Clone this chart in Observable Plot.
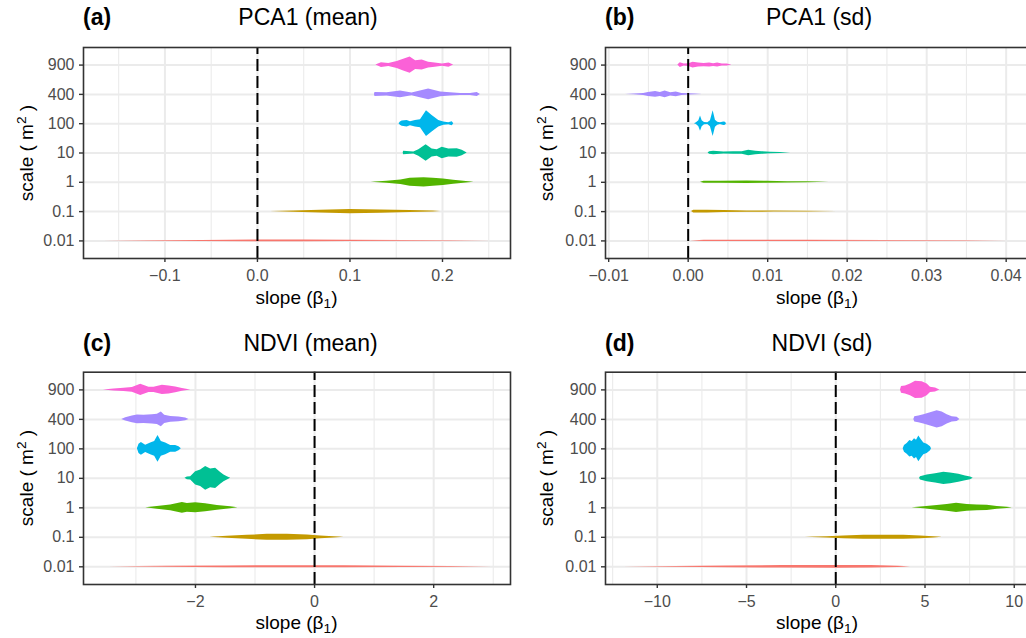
<!DOCTYPE html>
<html><head><meta charset="utf-8">
<script src="https://cdn.jsdelivr.net/npm/d3@7"></script>
<script src="https://cdn.jsdelivr.net/npm/@observablehq/plot@0.6"></script>
<style>
html,body{margin:0;padding:0;background:#fff;overflow:hidden;width:1026px;height:638px;}
#root{position:relative;width:1026px;height:638px;overflow:hidden;font-family:"Liberation Sans",Arial,Helvetica,sans-serif;}
.panel{position:absolute;}
.panel svg{max-width:none !important;display:block;}
.lab{position:absolute;white-space:nowrap;color:#000;line-height:1;}
.tag{font-size:23px;font-weight:bold;}
.ttl{font-size:23px;transform:translateX(-50%);}
.xt{font-size:19px;transform:translateX(-50%);}
.yt{font-size:19px;transform:translate(-50%,-50%) rotate(-90deg);}
sub{font-size:0.72em;vertical-align:-0.28em;line-height:0;}
sup{font-size:0.72em;vertical-align:0.5em;line-height:0;}
</style></head><body><div id="root"></div><script>
// categories (bottom to top) and their hue colours
const scales = ["0.01","0.1","1","10","100","400","900"];
const colors = ["#F8766D","#C49A00","#53B400","#00C094","#00B6EB","#A58AFF","#FB61D7"];

// violin outlines: [slope, half-width in category units], one array per scale (0.01 ... 900)
const pca1MeanViolins = [
  [[-0.166,0],[-0.12,0.008],[-0.06,0.018],[0,0.028],[0.05,0.03],[0.1,0.024],[0.16,0.015],[0.21,0.008],[0.252,0]],
  [[0.014,0],[0.039,0.022],[0.068,0.045],[0.1,0.07],[0.133,0.057],[0.165,0.034],[0.19,0.017],[0.198,0]],
  [[0.123,0],[0.14,0.034],[0.155,0.079],[0.165,0.136],[0.18,0.158],[0.19,0.136],[0.201,0.113],[0.212,0.068],[0.223,0.034],[0.234,0]],
  [[0.1575,0],[0.158,0.056],[0.169,0.034],[0.1744,0.113],[0.1823,0.28],[0.1888,0.136],[0.1942,0.113],[0.1997,0.2],[0.2068,0.136],[0.2159,0.147],[0.2213,0.09],[0.2267,0]],
  [[0.153,0],[0.1545,0.056],[0.1564,0.09],[0.1618,0.113],[0.1654,0.068],[0.1708,0.113],[0.1762,0.136],[0.1827,0.44],[0.1888,0.28],[0.196,0.113],[0.2014,0.056],[0.2068,0.034],[0.2105,0.068],[0.2122,0]],
  [[0.1265,0],[0.127,0.068],[0.14,0.056],[0.1546,0.113],[0.167,0.045],[0.185,0.18],[0.198,0.079],[0.2086,0.056],[0.2195,0.034],[0.2303,0.034],[0.2375,0.068],[0.241,0]],
  [[0.128,0],[0.134,0.08],[0.142,0.05],[0.151,0.12],[0.158,0.2],[0.165,0.28],[0.171,0.15],[0.178,0.17],[0.185,0.1],[0.192,0.07],[0.2,0.04],[0.207,0.07],[0.212,0]]
];
const pca1SdViolins = [
  [[0.0003,0],[0.002,0.02],[0.008,0.022],[0.015,0.02],[0.025,0.015],[0.035,0.009],[0.0401,0]],
  [[0.00042,0],[0.0007,0.045],[0.0024,0.045],[0.0045,0.034],[0.0074,0.023],[0.0108,0.017],[0.015,0.011],[0.0187,0]],
  [[0.00155,0],[0.002,0.034],[0.0041,0.034],[0.0074,0.045],[0.0099,0.034],[0.0125,0.023],[0.015,0.017],[0.0177,0]],
  [[0.0025,0],[0.0027,0.045],[0.0032,0.056],[0.0045,0.034],[0.0057,0.045],[0.0068,0.045],[0.0076,0.09],[0.0085,0.056],[0.0093,0.045],[0.0104,0.023],[0.0116,0.017],[0.0129,0]],
  [[0.00079,0],[0.00104,0.03],[0.00134,0.1],[0.00155,0.26],[0.00176,0.1],[0.00205,0.04],[0.00247,0.03],[0.0028,0.1],[0.00314,0.44],[0.00343,0.12],[0.00372,0.05],[0.00406,0.03],[0.00448,0.06],[0.00469,0.05],[0.00482,0]],
  [[-0.0079,0],[-0.0068,0.011],[-0.0056,0.034],[-0.005,0.068],[-0.0041,0.1],[-0.0035,0.068],[-0.0029,0.113],[-0.0022,0.056],[-0.0015,0.079],[-0.0008,0.034],[0.0001,0.023],[0.0009,0.011],[0.0018,0]],
  [[-0.0013,0],[-0.001,0.079],[-0.0005,0.034],[0.0001,0.045],[0.0006,0.1],[0.0013,0.068],[0.002,0.056],[0.0027,0.068],[0.0032,0.045],[0.0037,0.068],[0.0043,0.034],[0.0049,0.034],[0.0055,0]]
];
const ndviMeanViolins = [
  [[-3.45,0],[-2.5,0.015],[-1.5,0.03],[-0.5,0.035],[0.5,0.032],[1.5,0.022],[2.3,0.012],[2.98,0]],
  [[-1.756,0],[-1.465,0.034],[-1.129,0.068],[-0.794,0.1],[-0.458,0.1],[-0.122,0.079],[0.1,0.045],[0.324,0.023],[0.492,0]],
  [[-2.835,0],[-2.64,0.045],[-2.416,0.1],[-2.22,0.18],[-2.136,0.147],[-1.997,0.17],[-1.829,0.136],[-1.633,0.079],[-1.409,0.034],[-1.287,0]],
  [[-2.176,0],[-2.136,0.045],[-2.08,0.056],[-1.997,0.226],[-1.913,0.28],[-1.829,0.4],[-1.745,0.32],[-1.661,0.34],[-1.577,0.2],[-1.521,0.113],[-1.465,0.056],[-1.409,0]],
  [[-2.975,0],[-2.948,0.158],[-2.908,0.215],[-2.836,0.124],[-2.752,0.2],[-2.685,0.25],[-2.629,0.45],[-2.573,0.25],[-2.5,0.2],[-2.416,0.113],[-2.332,0.113],[-2.277,0.068],[-2.237,0]],
  [[-3.238,0],[-3.171,0.056],[-3.06,0.113],[-2.975,0.147],[-2.864,0.136],[-2.724,0.158],[-2.64,0.17],[-2.573,0.25],[-2.517,0.136],[-2.416,0.1],[-2.277,0.079],[-2.164,0.045],[-2.109,0]],
  [[-3.545,0],[-3.367,0.034],[-3.2,0.056],[-3.06,0.079],[-2.919,0.19],[-2.78,0.09],[-2.696,0.09],[-2.556,0.158],[-2.444,0.136],[-2.332,0.1],[-2.22,0.045],[-2.08,0]]
];
const ndviSdViolins = [
  [[-11.88,0],[-9,0.012],[-6,0.028],[-3,0.042],[0,0.047],[2,0.042],[3.5,0.022],[4.19,0]],
  [[-1.7,0],[-0.48,0.023],[0.45,0.045],[1.57,0.068],[2.69,0.068],[3.81,0.068],[4.75,0.045],[5.49,0.023],[5.96,0]],
  [[4.281,0],[4.933,0.034],[5.682,0.079],[6.243,0.113],[6.766,0.158],[7.364,0.113],[7.925,0.1],[8.486,0.09],[9.047,0.045],[9.607,0.023],[9.888,0]],
  [[4.692,0],[4.748,0.056],[5.121,0.113],[5.588,0.158],[6.054,0.21],[6.43,0.18],[6.894,0.136],[7.269,0.079],[7.55,0.045],[7.7,0]],
  [[3.777,0],[3.851,0.113],[4.001,0.18],[4.15,0.28],[4.281,0.25],[4.412,0.34],[4.524,0.29],[4.654,0.44],[4.785,0.32],[4.933,0.2],[5.121,0.158],[5.308,0.068],[5.364,0]],
  [[4.372,0],[4.428,0.09],[4.652,0.113],[4.933,0.158],[5.308,0.226],[5.682,0.294],[5.962,0.25],[6.243,0.158],[6.523,0.09],[6.803,0.068],[6.951,0]],
  [[3.626,0],[3.683,0.113],[3.907,0.136],[4.187,0.2],[4.467,0.294],[4.841,0.28],[5.121,0.2],[5.308,0.09],[5.588,0.068],[5.83,0]]
];

// axis ticks
const pca1MeanTicks = [-0.1, 0, 0.1, 0.2];
const pca1MeanTickLabels = ["\u22120.1", "0.0", "0.1", "0.2"];
const pca1MeanMinor = [-0.15, -0.05, 0.05, 0.15, 0.25];
const pca1SdTicks = [-0.01, 0, 0.01, 0.02, 0.03, 0.04];
const pca1SdTickLabels = ["\u22120.01", "0.00", "0.01", "0.02", "0.03", "0.04"];
const pca1SdMinor = [-0.005, 0.005, 0.015, 0.025, 0.035];
const ndviMeanTicks = [-2, 0, 2];
const ndviMeanTickLabels = ["\u22122", "0", "2"];
const ndviMeanMinor = [-3, -1, 1, 3];
const ndviSdTicks = [-10, -5, 0, 5, 10];
const ndviSdTickLabels = ["\u221210", "\u22125", "0", "5", "10"];
const ndviSdMinor = [-12.5, -7.5, -2.5, 2.5, 7.5];

const panelTags = ["(a)", "(b)", "(c)", "(d)"];
const panelTitles = ["PCA1 (mean)", "PCA1 (sd)", "NDVI (mean)", "NDVI (sd)"];

const root = document.getElementById("root");
const FONT = "'Liberation Sans', Arial, Helvetica, sans-serif";

function makePanel(cfg) {
  const {violins, domain, ticks, tickLabels, minor, left, top, width, height, mL, mR, mT, mB} = cfg;
  const labelOf = new Map(ticks.map((t, i) => [t, tickLabels[i]]));
  const idx = d3.range(scales.length);
  const marks = [
    Plot.ruleX(minor.filter(v => v > domain[0] && v < domain[1]), {stroke: "#EBEBEB", strokeWidth: 1.1}),
    Plot.ruleX(ticks, {stroke: "#EBEBEB", strokeWidth: 2}),
    Plot.ruleY(idx, {stroke: "#EBEBEB", strokeWidth: 2})
  ];
  violins.forEach((prof, i) => {
    marks.push(Plot.areaY(prof, {x: d => d[0], y1: d => i - d[1], y2: d => i + d[1], fill: colors[i], curve: "linear"}));
  });
  marks.push(
    Plot.ruleX([0], {y1: -0.6, y2: 6.6, stroke: "#000", strokeWidth: 2, strokeDasharray: "12,5"}),
    Plot.frame({stroke: "#333333", strokeWidth: 1.6}),
    Plot.axisX(ticks, {anchor: "bottom", tickFormat: d => labelOf.get(d), tickSize: 4, tickPadding: 7, fontSize: 16, stroke: "#333333", strokeWidth: 1.4, fill: "#4D4D4D", label: null}),
    Plot.axisY(idx, {anchor: "left", tickFormat: i => scales[i], tickSize: 4, tickPadding: 5, fontSize: 16, stroke: "#333333", strokeWidth: 1.4, fill: "#4D4D4D", label: null})
  );
  const chart = Plot.plot({
    width, height, marginLeft: mL, marginRight: mR, marginTop: mT, marginBottom: mB,
    x: {domain, axis: null},
    y: {domain: [-0.6, 6.6], axis: null},
    style: {fontFamily: FONT, background: "transparent", overflow: "visible", fontSize: "16px", maxWidth: "none"},
    marks
  });
  chart.style.maxWidth = "none";
  const wrap = document.createElement("div");
  wrap.className = "panel";
  wrap.style.left = left + "px";
  wrap.style.top = top + "px";
  wrap.style.width = width + "px";
  wrap.style.height = height + "px";
  wrap.appendChild(chart);
  root.appendChild(wrap);
}

function addLabel(cls, html, x, y) {
  const d = document.createElement("div");
  d.className = "lab " + cls;
  d.innerHTML = html;
  d.style.left = x + "px";
  d.style.top = y + "px";
  root.appendChild(d);
}

makePanel({violins: pca1MeanViolins, domain: [-0.188, 0.2735], ticks: pca1MeanTicks, tickLabels: pca1MeanTickLabels, minor: pca1MeanMinor,
  left: 0, top: 0, width: 513, height: 319, mL: 83, mR: 3, mT: 47, mB: 61});
makePanel({violins: pca1SdViolins, domain: [-0.0104, 0.04306], ticks: pca1SdTicks, tickLabels: pca1SdTickLabels, minor: pca1SdMinor,
  left: 513, top: 0, width: 520, height: 319, mL: 92, mR: 3, mT: 47, mB: 61});
makePanel({violins: ndviMeanViolins, domain: [-3.88, 3.29], ticks: ndviMeanTicks, tickLabels: ndviMeanTickLabels, minor: ndviMeanMinor,
  left: 0, top: 320, width: 513, height: 318, mL: 83, mR: 3, mT: 51.7, mB: 54});
makePanel({violins: ndviSdViolins, domain: [-12.9, 10.91], ticks: ndviSdTicks, tickLabels: ndviSdTickLabels, minor: ndviSdMinor,
  left: 513, top: 320, width: 520, height: 318, mL: 92, mR: 3, mT: 51.7, mB: 54});

// titles
const tagPos = [[83, 5.5], [605, 5.5], [83, 332.2], [605, 332.2]];
const titlePos = [[308, 5.5], [819, 5.5], [310.5, 332.2], [822, 332.2]];
panelTags.forEach((t, i) => addLabel("tag", t, tagPos[i][0], tagPos[i][1]));
panelTitles.forEach((t, i) => addLabel("ttl", t, titlePos[i][0], titlePos[i][1]));

// axis titles
const xTitle = "slope (\u03B2<sub>1</sub>)";
const yTitle = "scale ( m<sup>2</sup> )";
[[296.5, 288], [817, 288], [296.5, 613.3], [817, 613.3]].forEach(p => addLabel("xt", xTitle, p[0], p[1]));
[[25.5, 152.5], [546, 152.5], [25.5, 478], [546, 478]].forEach(p => addLabel("yt", yTitle, p[0], p[1]));
</script></body></html>
